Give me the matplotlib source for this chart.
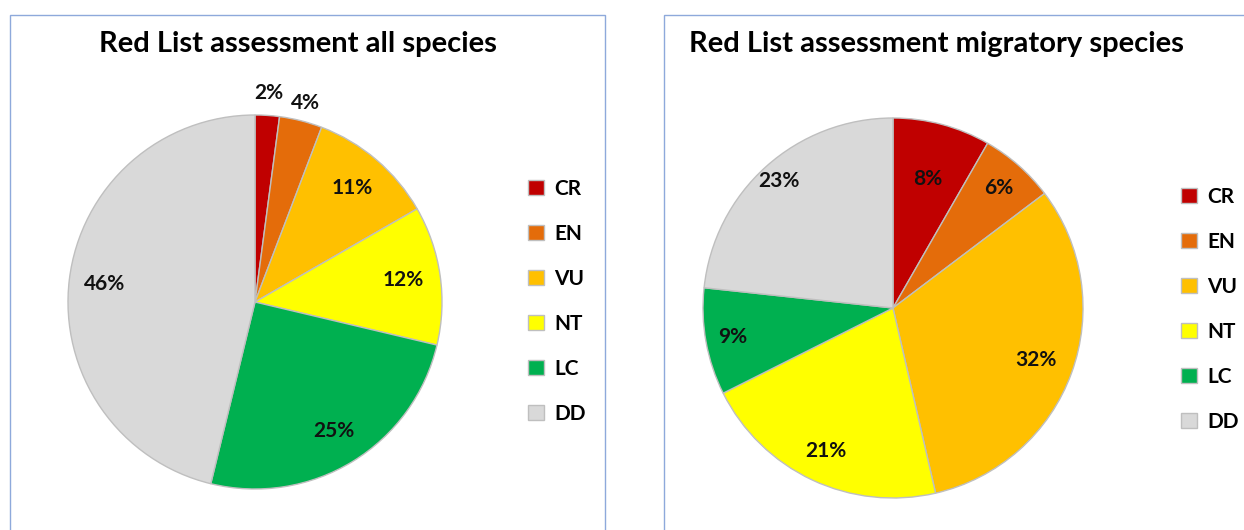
import matplotlib
matplotlib.use("Agg")
import matplotlib.pyplot as plt
from matplotlib.patches import Rectangle
import numpy as np

plt.rcParams['font.family'] = ['Lato', 'DejaVu Sans']

# Red List categories and shares (%)
categories = ["CR", "EN", "VU", "NT", "LC", "DD"]
all_species = [2.1, 3.7, 10.9, 12.0, 25.1, 46.2]
migratory_species = [8.3, 6.4, 31.7, 21.2, 9.1, 23.3]
titles = ["Red List assessment all species", "Red List assessment migratory species"]

colors = ["#C00000", "#E46C0A", "#FFC000", "#FFFF00", "#00B050", "#D9D9D9"]

W, H = 1244, 530
fig = plt.figure(figsize=(W/100, H/100), dpi=100)


def px_axes(cx, cy, r):
	# square axes of radius r pixels centred on pixel (cx, cy)
	return fig.add_axes([(cx - r)/W, 1 - (cy + r)/H, 2*r/W, 2*r/H])


def draw_pie(ax, values, label_r):
	wedges, _, autotexts = ax.pie(values, colors=colors, startangle=90, counterclock=False,
		autopct='%.0f%%', pctdistance=0.8,
		wedgeprops=dict(edgecolor='#BFBFBF', linewidth=1),
		textprops=dict(fontsize=15, fontweight='bold', color='#111111'))
	# move labels radially, like Excel's best-fit placement
	for w, t, r in zip(wedges, autotexts, label_r):
		a = np.deg2rad((w.theta1 + w.theta2)/2)
		t.set_position((r*np.cos(a), r*np.sin(a)))
	ax.set_xlim(-1, 1)
	ax.set_ylim(-1, 1)
	ax.set_aspect('equal')
	ax.axis('off')
	return wedges


ax1 = px_axes(255, 302, 187)
w1 = draw_pie(ax1, all_species, [1.12, 1.1, 0.8, 0.8, 0.81, 0.81])
ax2 = px_axes(893, 308, 190)
w2 = draw_pie(ax2, migratory_species, [0.7, 0.84, 0.8, 0.83, 0.86, 0.9])

# panel borders
border = '#8EA9DB'
fig.add_artist(Rectangle((10/W, -0.1), 595/W, 1.1 - 15/H, transform=fig.transFigure,
	fill=False, edgecolor=border, linewidth=1))
fig.add_artist(Rectangle((664/W, -0.1), 700/W, 1.1 - 15/H, transform=fig.transFigure,
	fill=False, edgecolor=border, linewidth=1))

fig.text(298/W, 1 - 44/H, titles[0], ha='center', va='center', fontsize=21, fontweight='bold')
fig.text(689/W, 1 - 44/H, titles[1], ha='left', va='center', fontsize=21, fontweight='bold')

for wedges, x, y in [(w1, 528/W, 1 - 179/H), (w2, 1181/W, 1 - 187/H)]:
	leg = fig.legend(wedges, categories, loc='upper left', bbox_to_anchor=(x, y),
		frameon=False, fontsize=15, labelspacing=1.2, handlelength=0.75, handleheight=0.75,
		handletextpad=0.5, borderpad=0, borderaxespad=0)
	for t in leg.get_texts():
		t.set_fontweight('bold')

fig.savefig("out.png", dpi=100)
